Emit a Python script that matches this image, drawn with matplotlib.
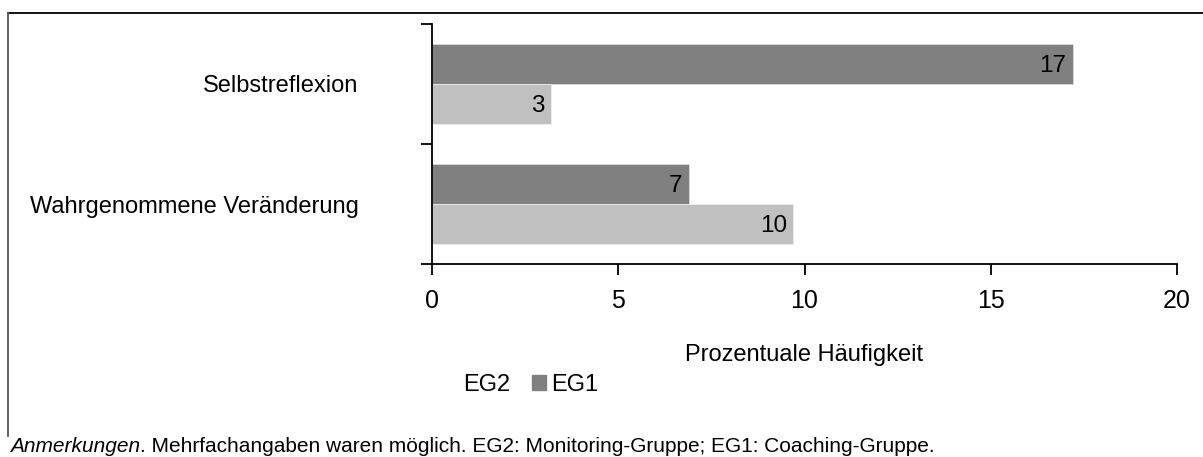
import numpy as np
import matplotlib.pyplot as plt
from matplotlib.lines import Line2D
from matplotlib.patches import Patch

plt.rcParams['font.family'] = ['Liberation Sans', 'DejaVu Sans']

categories = ['Selbstreflexion', 'Wahrgenommene Veränderung']
eg1 = [17.2, 6.9]
eg2 = [3.2, 9.7]
xticks = [0, 5, 10, 15, 20]

dark = '#808080'
light = '#c0c0c0'

fig = plt.figure(figsize=(12.03, 4.57), dpi=100)
ax = fig.add_axes([0.3591, 0.4223, 0.6193, 0.5252])

y = np.arange(len(categories))
h = 1 / 3
b1 = ax.barh(y - h / 2, eg1, height=h, color=dark, edgecolor='#d9d9d9', linewidth=0.6)
b2 = ax.barh(y + h / 2, eg2, height=h, color=light, edgecolor='#eeeeee', linewidth=0.6)

for bars in (b1, b2):
    for r in bars:
        ax.text(r.get_width() - 0.17, r.get_y() + r.get_height() / 2 + 0.02,
                '%.0f' % r.get_width(), ha='right', va='center', fontsize=17.5)

ax.set_ylim(1.5, -0.5)
ax.set_xlim(0, 20)
ax.set_xticks(xticks)
ax.set_xticklabels([str(t) for t in xticks], fontsize=18)
ax.set_yticks(y)
ax.set_yticklabels(categories, fontsize=17)
ax.set_yticks([-0.5, 0.5, 1.5], minor=True)
ax.tick_params(axis='y', which='major', length=0, pad=53)
ax.tick_params(axis='y', which='minor', length=8, width=1.3, direction='out')
ax.tick_params(axis='x', length=8, width=1.3, direction='out', pad=10)
for s in ('top', 'right'):
    ax.spines[s].set_visible(False)
ax.spines['left'].set_linewidth(1.3)
ax.spines['bottom'].set_linewidth(1.3)

ax.set_xlabel('Prozentuale Häufigkeit', fontsize=17, labelpad=22)

handles = [Patch(facecolor='none', edgecolor='none'), Patch(facecolor=dark, edgecolor=dark)]
fig.legend(handles, ['EG2', 'EG1'], loc='center', bbox_to_anchor=(0.433, 0.158),
           ncol=2, frameon=False, fontsize=17, handlelength=0.6, handleheight=0.6,
           handletextpad=0.25, columnspacing=0.9)

# note below the chart, italic lead word
note_y = 1 - 437 / 457
t1 = fig.text(0.008, note_y, 'Anmerkungen', fontsize=15, style='italic', va='top')
fig.canvas.draw()
bb = t1.get_window_extent().transformed(fig.transFigure.inverted())
fig.text(bb.x1, note_y, '. Mehrfachangaben waren möglich. EG2: Monitoring-Gruppe; EG1: Coaching-Gruppe.',
         fontsize=15, va='top')

fig.add_artist(Line2D([8 / 1203, 1], [1 - 13 / 457, 1 - 13 / 457], color='black', lw=1.3))
fig.add_artist(Line2D([8 / 1203, 8 / 1203], [1 - 13 / 457, 1 - 436 / 457], color='#555555', lw=1.3))

fig.savefig('out.png', dpi=100)
